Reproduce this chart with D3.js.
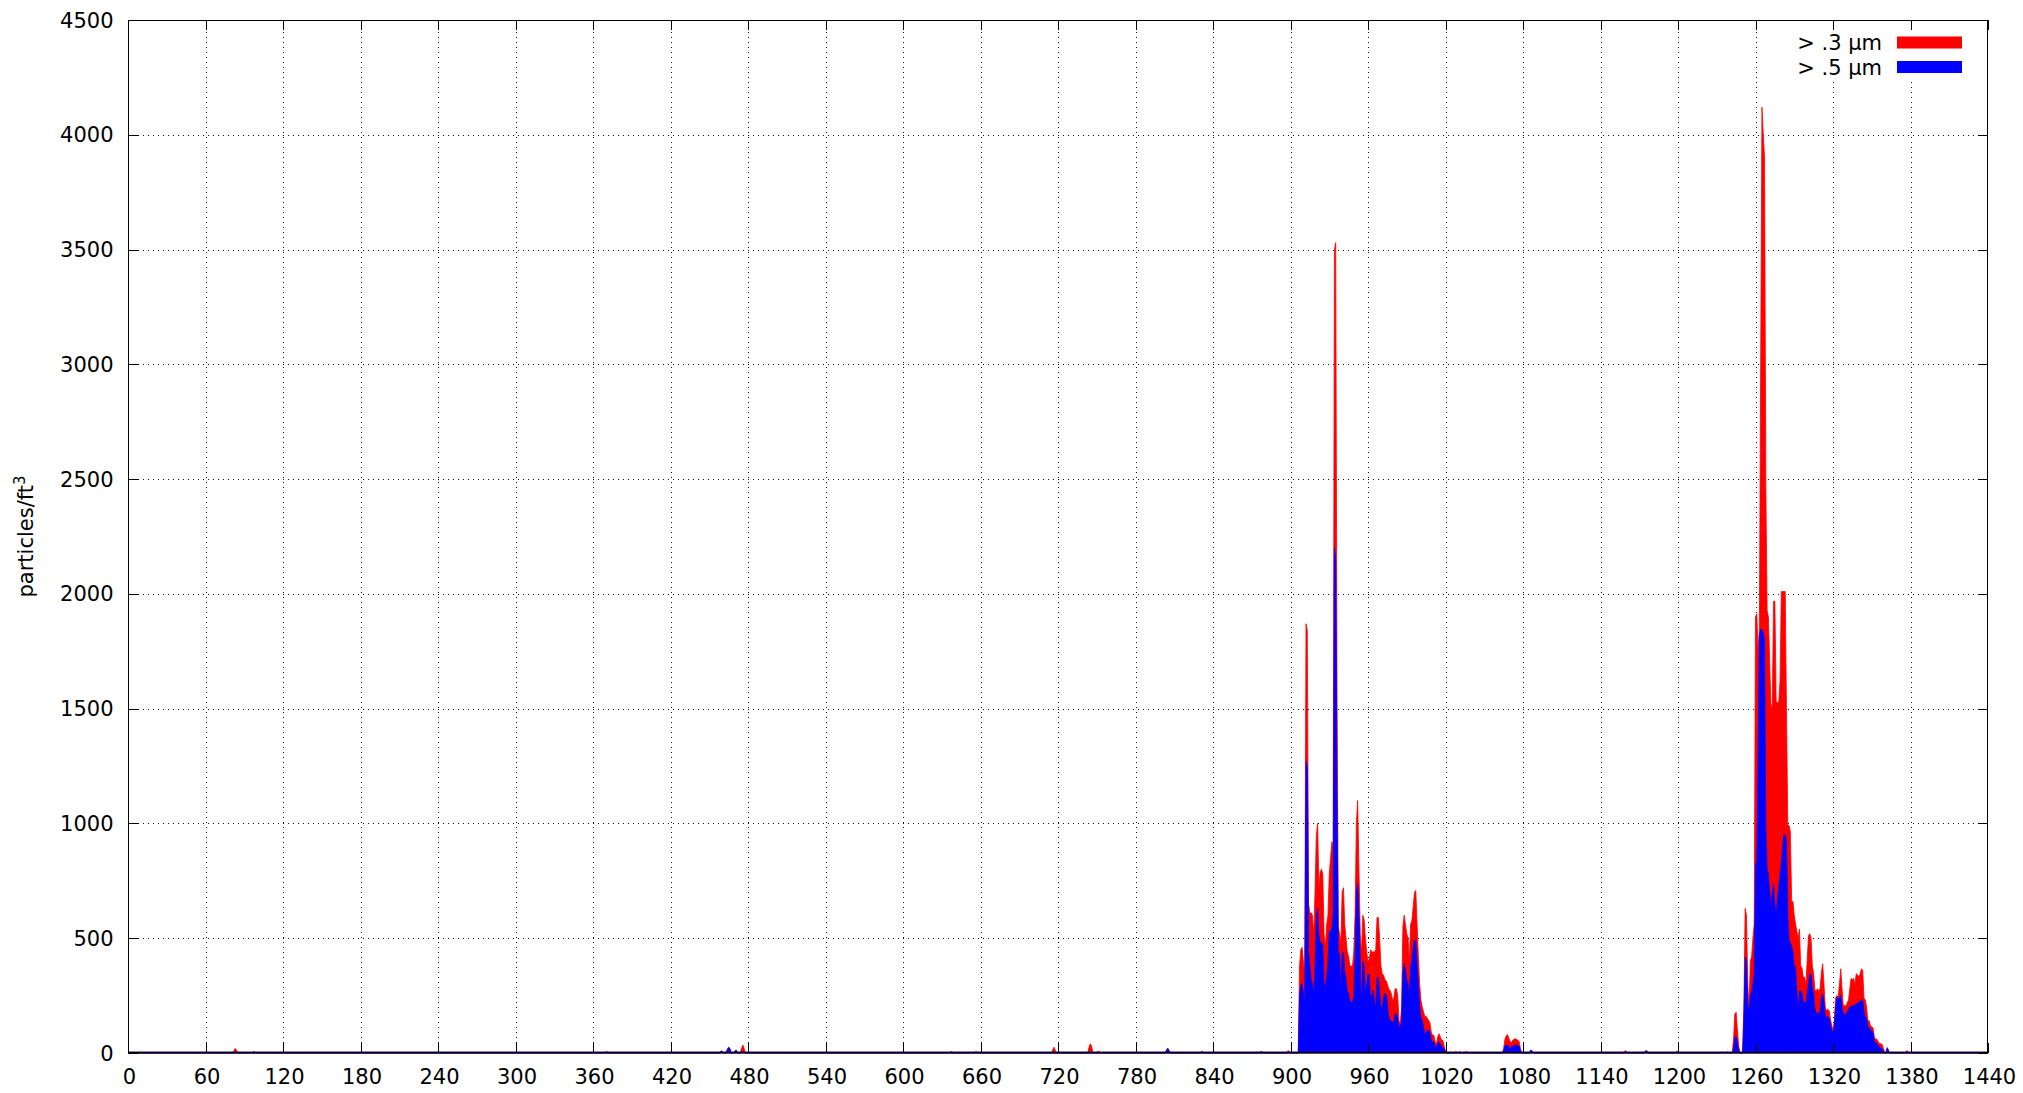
<!DOCTYPE html>
<html>
<head>
<meta charset="utf-8">
<script src="https://cdn.jsdelivr.net/npm/d3@7"></script>
<style>
  html, body { margin: 0; padding: 0; background: #fff; }
  svg { display: block; }
  text { font-family: "DejaVu Sans", sans-serif; fill: #000; }
</style>
</head>
<body>
<svg id="chart" width="2023" height="1093"></svg>
<script>
// Minute-of-day particle counts (particles/ft³), one value per minute.
const minutesPerDay = 1440;
const xTickValues = d3.range(0, 1441, 60);
const yTickValues = d3.range(0, 4501, 500);
const seriesNames = ["> .3 µm", "> .5 µm"];

// Afternoon burst, minutes 906..1021
const burstAStart = 906;
const burstARed = [
  0,380,450,460,400,340,1870,1840,650,610,
  610,600,520,700,950,1000,720,790,800,780,
  520,460,560,600,780,850,920,900,3500,3530,
  1600,550,520,480,700,720,560,500,440,420,
  380,378,380,440,600,1000,1100,800,520,440,
  600,580,500,440,400,410,450,440,440,440,
  450,590,590,500,380,345,340,320,316,300,
  280,273,260,229,240,280,280,250,140,128,
  200,550,600,560,520,500,400,560,578,640,
  700,708,560,420,300,230,200,180,157,160,
  150,142,130,90,77,77,50,40,70,84,
  70,55,55,30,10,0
];
const burstABlue = [
  0,250,300,300,260,210,1270,1240,440,380,
  320,300,258,400,600,630,510,480,480,470,
  300,290,330,400,530,530,540,600,2200,2150,
  1100,440,430,260,430,440,350,330,270,260,
  230,220,220,244,420,700,740,600,400,200,
  400,380,258,300,345,340,240,250,273,220,
  200,330,330,260,200,200,240,260,258,220,
  160,142,140,128,140,171,171,150,115,113,
  140,350,389,360,316,300,230,380,404,460,
  490,490,380,300,200,150,142,110,84,84,
  100,99,90,55,48,48,30,20,45,48,
  40,26,26,15,5,0
];

// Small burst, minutes 1065..1079
const burstBStart = 1065;
const burstBRed  = [20,60,75,80,65,50,45,55,60,62,60,55,50,20,0];
const burstBBlue = [10,30,35,35,25,20,25,30,32,35,35,30,30,10,0];

// Evening burst, minutes 1242..1364
const burstCStart = 1242;
const burstCRed = [
  0,60,170,178,100,30,0,0,0,200,
  630,600,300,200,400,420,500,560,1900,1913,
  1750,1850,3000,4120,4000,3900,2480,1927,1900,1700,
  1500,1520,1968,1968,1528,1528,1528,1624,2010,2010,
  2010,2010,1487,991,991,964,660,660,600,563,
  530,500,540,380,370,330,330,300,400,510,
  520,500,380,345,275,270,280,270,280,350,
  389,300,200,185,190,185,150,120,100,140,
  240,250,244,300,367,280,200,210,200,220,
  230,280,324,320,324,300,345,340,330,345,
  367,360,240,230,200,142,140,120,113,110,
  70,60,60,50,40,40,38,20,5,0,
  23,10,0
];
const burstCBlue = [
  0,20,70,72,40,15,0,0,0,150,
  418,400,220,171,258,260,300,350,825,830,
  1300,1820,1845,1845,1830,1800,990,800,780,700,
  636,700,738,650,592,680,723,780,825,900,
  955,950,926,600,490,480,461,440,375,375,
  275,171,270,270,260,220,220,220,260,300,
  345,340,280,258,193,171,175,171,180,240,
  258,220,160,157,160,150,130,100,90,110,
  200,244,230,244,250,200,171,171,165,180,
  190,200,200,210,200,210,215,215,220,225,
  230,230,180,157,150,113,110,100,95,90,
  50,45,40,35,25,20,18,10,0,0,
  23,10,0
];

// Short isolated readings: [minute, > .3 µm, > .5 µm]
const isolatedReadings = [
  [82,10,0],[83,20,0],[84,12,0],[97,6,0],[98,6,0],[370,6,0],[371,6,0],
  [459,8,8],[460,8,8],[464,15,15],[465,25,25],[466,20,18],
  [470,10,10],[471,12,12],[475,20,5],[476,35,5],[477,20,0],
  [637,6,0],[638,6,0],[656,6,0],[657,6,0],[716,15,0],[717,25,0],[718,10,0],
  [744,25,0],[745,40,0],[746,30,0],[751,8,0],[752,6,0],
  [804,12,12],[805,20,20],[806,10,10],[831,8,0],[832,6,0],
  [877,8,0],[878,6,0],[898,10,0],[899,8,0],
  [1028,8,0],[1031,8,0],[1036,8,0],[1086,12,12],[1087,10,10],
  [1159,10,0],[1160,8,0],[1175,10,10],[1176,8,8],[1199,8,0],[1200,6,0],
  [1234,6,0],[1238,6,0],[1377,10,0],[1378,8,0]
];

// ---- assemble the full-day series ----
const small = new Array(minutesPerDay).fill(0);
const large = new Array(minutesPerDay).fill(0);
function place(target, start, values) {
  values.forEach((v, i) => { target[start + i] = v; });
}
place(small, burstAStart, burstARed);  place(large, burstAStart, burstABlue);
place(small, burstBStart, burstBRed);  place(large, burstBStart, burstBBlue);
place(small, burstCStart, burstCRed);  place(large, burstCStart, burstCBlue);
isolatedReadings.forEach(([m, r, b]) => { small[m] = r; large[m] = b; });

// ---- layout ----
const W = 2023, H = 1093;
const plotLeft = 128, plotRight = 1988, plotTop = 20, plotBottom = 1053;
const COLOR_SMALL = "#ff0000", COLOR_LARGE = "#0000ff";
const FONT = 21;

const svg = d3.select("#chart");
svg.append("rect").attr("width", W).attr("height", H).attr("fill", "#fff");

const x = d3.scaleLinear().domain([0, 1440]).range([plotLeft, plotRight]);
const y = d3.scaleLinear().domain([0, 4500]).range([plotBottom, plotTop]);
const crisp = v => Math.round(v) + 0.5;

// dotted grid, behind the data
const grid = svg.append("g").attr("stroke", "#111").attr("stroke-width", 1)
  .attr("stroke-dasharray", "1,4").attr("fill", "none");
xTickValues.filter(t => t > 0 && t < 1440).forEach(t => {
  grid.append("line").attr("x1", crisp(x(t))).attr("x2", crisp(x(t)))
    .attr("y1", plotBottom).attr("y2", plotTop);
});
yTickValues.filter(t => t > 0 && t < 4500).forEach(t => {
  grid.append("line").attr("y1", crisp(y(t))).attr("y2", crisp(y(t)))
    .attr("x1", plotLeft).attr("x2", plotRight);
});

// filled areas: > .3 µm underneath, > .5 µm on top
const area = d3.area()
  .x((d, i) => x(i))
  .y0(y(0))
  .y1(d => y(d));
svg.append("path").datum(small).attr("d", area).attr("fill", COLOR_SMALL)
  .attr("stroke", COLOR_SMALL).attr("stroke-width", 0.8).attr("stroke-linejoin", "round");
svg.append("path").datum(large).attr("d", area).attr("fill", COLOR_LARGE)
  .attr("stroke", COLOR_LARGE).attr("stroke-width", 0.8).attr("stroke-linejoin", "round");

// baseline where the curves sit on zero
svg.append("line").attr("x1", plotLeft).attr("x2", plotRight)
  .attr("y1", plotBottom - 0.5).attr("y2", plotBottom - 0.5)
  .attr("stroke", "#24124a").attr("stroke-width", 2);

// key (opaque background)
const keyG = svg.append("g");
keyG.append("rect").attr("x", 1786).attr("y", plotTop).attr("width", plotRight - 1786)
  .attr("height", 62).attr("fill", "#fff");
const keyRows = [42.5, 67];
seriesNames.forEach((name, i) => {
  keyG.append("text").attr("x", 1882).attr("y", keyRows[i] + 7.5)
    .attr("text-anchor", "end").attr("font-size", FONT).text(name);
  keyG.append("rect").attr("x", 1897).attr("y", keyRows[i] - 6)
    .attr("width", 65).attr("height", 12)
    .attr("fill", i === 0 ? COLOR_SMALL : COLOR_LARGE);
});

// border and mirrored inward ticks
const axisG = svg.append("g").attr("stroke", "#000").attr("stroke-width", 1).attr("fill", "none");
axisG.append("rect").attr("x", plotLeft + 0.5).attr("y", plotTop + 0.5)
  .attr("width", plotRight - plotLeft - 1).attr("height", plotBottom - plotTop - 1);
const TICK = 10;
xTickValues.forEach(t => {
  const px = crisp(x(t));
  axisG.append("line").attr("x1", px).attr("x2", px).attr("y1", plotBottom).attr("y2", plotBottom - TICK);
  axisG.append("line").attr("x1", px).attr("x2", px).attr("y1", plotTop).attr("y2", plotTop + TICK);
});
yTickValues.forEach(t => {
  const py = crisp(y(t));
  axisG.append("line").attr("y1", py).attr("y2", py).attr("x1", plotLeft).attr("x2", plotLeft + TICK);
  axisG.append("line").attr("y1", py).attr("y2", py).attr("x1", plotRight).attr("x2", plotRight - TICK);
});

// tick labels
const labels = svg.append("g").attr("font-size", FONT);
xTickValues.forEach(t => {
  labels.append("text").attr("x", x(t) + 1.5).attr("y", 1084)
    .attr("text-anchor", "middle").text(t);
});
yTickValues.forEach(t => {
  labels.append("text").attr("x", 113.5).attr("y", y(t) + 7.5)
    .attr("text-anchor", "end").text(t);
});

// y-axis title
const yTitle = svg.append("text")
  .attr("transform", `translate(33,${(plotTop + plotBottom) / 2}) rotate(-90)`)
  .attr("text-anchor", "middle").attr("font-size", FONT);
yTitle.append("tspan").text("particles/ft");
yTitle.append("tspan").attr("dy", -8).attr("font-size", 15).text("3");
</script>
</body>
</html>
